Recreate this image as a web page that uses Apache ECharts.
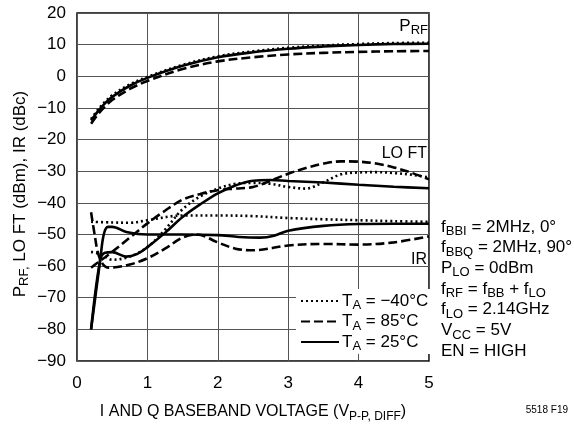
<!DOCTYPE html>
<html>
<head>
<meta charset="utf-8">
<script src="https://cdn.jsdelivr.net/npm/echarts@6/dist/echarts.min.js"></script>
<style>
  html, body { margin: 0; padding: 0; background: #fff; }
  #chart { width: 574px; height: 426px; }
</style>
</head>
<body>
<div id="chart"></div>
<script>
// P_RF (dBm)
var prfX = [0.2, 0.3, 0.4, 0.5, 0.75, 1, 1.5, 2, 2.5, 3, 3.5, 4, 4.5, 5];
var prfM40 = [-13.5, -10.5, -8, -6, -2.6, -0.2, 3.6, 6.3, 7.9, 9, 9.7, 10.2, 10.5, 10.6];
var prf85 = [-15, -12, -9.5, -7.5, -4, -1.5, 2.3, 4.7, 6, 6.9, 7.4, 7.7, 7.9, 8];
var prf25 = [-14, -11, -8.5, -6.5, -3, -0.5, 3.3, 6, 7.6, 8.7, 9.4, 9.9, 10.2, 10.3];

// LO FT (dBm)
var loX = [0.2, 0.3, 0.4, 0.5, 0.75, 1, 1.25, 1.5, 1.75, 2, 2.25, 2.5, 2.75, 3, 3.25, 3.5, 3.75, 4, 4.25, 4.5, 4.75, 5];
var loM40 = [-55.5, -56, -57, -58, -57, -54, -48.5, -42, -38, -35.5, -34, -33.7, -34, -35, -35.5, -33.5, -31, -30.4, -30.3, -30.6, -31.1, -32];
var lo85 = [-60.5, -58.8, -57.2, -55.5, -51, -46.5, -42.5, -39, -37.2, -36, -35.5, -35, -33, -30.8, -29, -27.6, -26.9, -27, -27.6, -28.8, -30.5, -32.6];
var lo25X = [0.2, 0.33, 0.4, 0.5, 0.7, 0.85, 1, 1.25, 1.5, 1.75, 2, 2.25, 2.5, 2.75, 3, 3.5, 4, 4.5, 5];
var lo25 = [-80, -58, -55.8, -55.6, -57, -56.2, -54, -49.5, -44.5, -40.5, -37, -34.5, -33, -32.8, -33.1, -33.6, -34.3, -34.9, -35.4];

// IR (dBc)
var irM40X = [0.2, 0.5, 0.75, 1, 1.5, 2, 2.5, 3, 3.5, 4, 4.5, 5];
var irM40 = [-46, -46.2, -46.3, -45.5, -44, -44, -44.2, -44.8, -45.2, -45.5, -45.8, -46];
var ir85X = [0.2, 0.25, 0.3, 0.37, 0.45, 0.75, 1, 1.25, 1.5, 1.7, 2, 2.25, 2.5, 3, 3.5, 4, 4.5, 5];
var ir85 = [-43, -50, -56, -59.5, -60.5, -59.5, -57.5, -54.5, -51, -50, -52.5, -54.5, -55, -53.5, -53, -53.2, -52.5, -50.6];
var ir25X = [0.2, 0.33, 0.38, 0.44, 0.5, 0.7, 1, 1.5, 2, 2.3, 2.6, 2.8, 3, 3.5, 4, 4.5, 5];
var ir25 = [-80, -58, -50, -47.6, -47.6, -49.2, -50, -50, -50.2, -50.8, -51, -50.4, -48.8, -47.3, -46.7, -46.6, -46.6];

var yTicks = [20, 10, 0, -10, -20, -30, -40, -50, -60, -70, -80, -90];
var xTicks = [0, 1, 2, 3, 4, 5];

var legendNames = ['T_A = −40°C', 'T_A = 85°C', 'T_A = 25°C'];
var notes = [
  ['f', 'BBI', ' = 2MHz, 0°'],
  ['f', 'BBQ', ' = 2MHz, 90°'],
  ['P', 'LO', ' = 0dBm'],
  ['f', 'RF', ' = f', 'BB', ' + f', 'LO'],
  ['f', 'LO', ' = 2.14GHz'],
  ['V', 'CC', ' = 5V'],
  ['EN = HIGH', ' ']
];

var FONT = '"Liberation Sans", Arial, sans-serif';
var dotted = [2, 3];
var dashed = [9, 4];

function pairs(xs, ys) {
  return xs.map(function (x, i) { return [x, ys[i]]; });
}

function line(name, xs, ys, dash) {
  return {
    name: name,
    type: 'line',
    data: pairs(xs, ys),
    smooth: 0.35,
    symbol: 'none',
    silent: true,
    color: '#000',
    lineStyle: { color: '#000', width: 2.6, type: dash }
  };
}

// rich text for subscripts
function richFor(size) {
  return {
    t: { fontFamily: FONT, fontSize: size, color: '#000', lineHeight: 20 },
    s: { fontFamily: FONT, fontSize: Math.round(size * 0.74), color: '#000', lineHeight: 20, padding: [9, 0, 0, 0] }
  };
}
var rich17 = richFor(17);
var rich16 = richFor(16);

function noteText(parts) {
  var out = '';
  for (var i = 0; i < parts.length; i++) {
    out += (i % 2 === 0 ? '{t|' : '{s|') + parts[i] + '}';
  }
  return out;
}

var graphics = [];
notes.forEach(function (p, i) {
  graphics.push({
    type: 'text', left: 441, top: 216 + i * 20.7,
    style: { text: noteText(p), rich: rich17 }
  });
});
graphics.push(
  { type: 'text', right: 146, top: 15, style: { text: '{t|P}{s|RF}', rich: rich17 } },
  { type: 'text', right: 147, top: 146, style: { text: '{t|LO FT}', rich: rich16 } },
  { type: 'text', right: 147, top: 252, style: { text: '{t|IR}', rich: rich16 } },
  { type: 'text', x: 253, y: 412, style: { text: '{t|I AND Q BASEBAND VOLTAGE (V}{s|P-P, DIFF}{t|)}', rich: rich16, align: 'center', verticalAlign: 'middle' } },
  { type: 'text', x: 20, y: 194, rotation: Math.PI / 2, style: { text: '{t|P}{s|RF,}{t| LO FT (dBm), IR (dBc)}', rich: rich17, align: 'center', verticalAlign: 'middle' } },
  { type: 'text', right: 6, top: 405, style: { text: '5518 F19', fontFamily: FONT, fontSize: 10, fill: '#000' } }
);

var chart = echarts.init(document.getElementById('chart'));
chart.setOption({
  animation: false,
  backgroundColor: '#fff',
  grid: { left: 77, top: 13, width: 352, height: 348, show: true, borderColor: '#000', borderWidth: 1.5, backgroundColor: 'transparent' },
  xAxis: {
    type: 'value', min: xTicks[0], max: xTicks[xTicks.length - 1], interval: 1,
    axisLine: { show: false }, axisTick: { show: false },
    splitLine: { lineStyle: { color: '#555', width: 1 } },
    axisLabel: { margin: 14, fontFamily: FONT, fontSize: 17, color: '#000' }
  },
  yAxis: {
    type: 'value', min: yTicks[yTicks.length - 1], max: yTicks[0], interval: 10,
    axisLine: { show: false }, axisTick: { show: false },
    splitLine: { lineStyle: { color: '#555', width: 1 } },
    axisLabel: {
      margin: 11, fontFamily: FONT, fontSize: 17, color: '#000',
      formatter: function (v) { return String(v).replace('-', '−'); }
    }
  },
  legend: {
    data: legendNames,
    orient: 'vertical',
    left: 296, top: 289,
    itemWidth: 38, itemHeight: 10, itemGap: -1.5,
    backgroundColor: '#fff',
    padding: [1, 2, 1, 4],
    itemStyle: { opacity: 0 },
    formatter: function (n) {
      var parts = n.split('_A');
      return '{t|' + parts[0] + '}{s|A}{t|' + parts[1] + '}';
    },
    textStyle: { rich: rich17, padding: [0, 0, 0, -2] }
  },
  graphic: graphics,
  series: [
    line(legendNames[0], prfX, prfM40, dotted),
    line(legendNames[1], prfX, prf85, dashed),
    line(legendNames[2], prfX, prf25, 'solid'),
    line(legendNames[0], loX, loM40, dotted),
    line(legendNames[1], loX, lo85, dashed),
    line(legendNames[2], lo25X, lo25, 'solid'),
    line(legendNames[0], irM40X, irM40, dotted),
    line(legendNames[1], ir85X, ir85, dashed),
    line(legendNames[2], ir25X, ir25, 'solid')
  ]
});
</script>
</body>
</html>
